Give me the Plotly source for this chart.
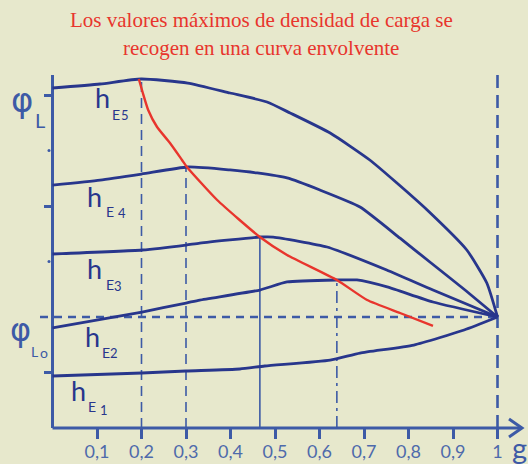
import plotly.graph_objects as go

# ---------------- data ----------------
title_lines = ["Los valores máximos de densidad de carga se",
               "recogen en una curva envolvente"]

g_ticks = [0.1, 0.2, 0.3, 0.4, 0.5, 0.6, 0.7, 0.8, 0.9, 1.0]
g_tick_labels = ["0,1", "0,2", "0,3", "0,4", "0,5", "0,6", "0,7", "0,8", "0,9", "1"]
phi_ticks = [1, 4, 6]
phi_dots = [3, 5]

hE5_g = [0.0, 0.107, 0.199, 0.304, 0.399, 0.482, 0.534, 0.624, 0.713, 0.774, 0.842, 0.931, 0.976, 1.0]
hE5_phi = [6.126, 6.198, 6.288, 6.216, 6.036, 5.874, 5.676, 5.315, 4.829, 4.414, 3.928, 3.207, 2.613, 2.0]

hE4_g = [0.0, 0.107, 0.201, 0.304, 0.399, 0.46, 0.527, 0.601, 0.691, 0.781, 0.848, 0.927, 1.0]
hE4_phi = [4.378, 4.468, 4.577, 4.703, 4.649, 4.595, 4.505, 4.288, 3.982, 3.42, 2.991, 2.486, 2.0]

hE3_g = [0.0, 0.201, 0.3, 0.331, 0.466, 0.496, 0.617, 0.751, 0.855, 1.0]
hE3_phi = [3.135, 3.207, 3.297, 3.333, 3.441, 3.441, 3.261, 2.847, 2.486, 2.0]

hE2_g = [0.0, 0.201, 0.3, 0.331, 0.466, 0.527, 0.639, 0.684, 0.752, 0.855, 1.0]
hE2_phi = [1.802, 2.09, 2.252, 2.306, 2.486, 2.631, 2.667, 2.667, 2.541, 2.27, 2.0]

hE1_g = [0.0, 0.201, 0.3, 0.421, 0.477, 0.624, 0.691, 0.812, 0.925, 1.0]
hE1_phi = [0.937, 0.991, 1.027, 1.063, 1.117, 1.225, 1.351, 1.495, 1.766, 2.0]

envelope_g = [0.194, 0.203, 0.215, 0.235, 0.264, 0.291, 0.302, 0.370, 0.466, 0.527, 0.639, 0.707, 0.781, 0.855]
envelope_phi = [6.288, 6.036, 5.73, 5.423, 5.135, 4.829, 4.703, 4.108, 3.441, 3.117, 2.667, 2.306, 2.072, 1.838]

guide_g = [0.2, 0.3, 0.466, 0.639]
guide_top = [6.288, 4.703, 3.441, 2.667]
guide_dash = ["10px,6px", "10px,6px", "solid", "12px,5px,3px,5px"]

phi_L0 = 2.0
phi_axis_top = 6.36
g_axis_end = 1.055

curve_names = ["5", "4", "3", "2", "1"]

# ---------------- style ----------------
BG = "#e7e8cc"
CURVE = "#28368c"
AXIS = "#3d5aa6"
RED = "#e8352d"
TXT = "#4e6aab"
SANS = "Lato, 'Open Sans', sans-serif"

W, H = 528, 464
X0PX, XS = 52.5, 445.0
Y0PX, YS = 428.0, 55.5
x_range = [(0 - X0PX) / XS, (W - X0PX) / XS]
y_range = [(Y0PX - H) / YS, Y0PX / YS]


def px2x(p):
    return (p - X0PX) / XS


def px2y(p):
    return (Y0PX - p) / YS


fig = go.Figure()

# axis lines
fig.add_trace(go.Scatter(x=[0, 0], y=[0, phi_axis_top], mode="lines",
                         line=dict(color=AXIS, width=3), hoverinfo="skip"))
fig.add_trace(go.Scatter(x=[0, g_axis_end], y=[0, 0], mode="lines",
                         line=dict(color=AXIS, width=3), hoverinfo="skip"))
fig.add_trace(go.Scatter(x=[px2x(509), g_axis_end, px2x(509)],
                         y=[px2y(419), 0, px2y(437)], mode="lines",
                         line=dict(color=AXIS, width=3), hoverinfo="skip"))
# y dots
fig.add_trace(go.Scatter(x=[px2x(49)] * len(phi_dots), y=phi_dots, mode="markers",
                         marker=dict(color=AXIS, size=3), hoverinfo="skip"))

# guides
for gx, gt, d in zip(guide_g, guide_top, guide_dash):
    fig.add_trace(go.Scatter(x=[gx, gx], y=[0, gt], mode="lines",
                             line=dict(color=AXIS, width=1.6, dash=d), hoverinfo="skip"))
fig.add_trace(go.Scatter(x=[1.0, 1.0], y=[0, phi_axis_top], mode="lines",
                         line=dict(color=AXIS, width=2.6, dash="13px,7px"), hoverinfo="skip"))
fig.add_trace(go.Scatter(x=[px2x(40), 1.0], y=[phi_L0, phi_L0], mode="lines",
                         line=dict(color=AXIS, width=2.4, dash="8px,6px"), hoverinfo="skip"))

# curves
for gs, ps in [(hE5_g, hE5_phi), (hE4_g, hE4_phi), (hE3_g, hE3_phi),
               (hE2_g, hE2_phi), (hE1_g, hE1_phi)]:
    fig.add_trace(go.Scatter(x=gs, y=ps, mode="lines",
                             line=dict(color=CURVE, width=2.8, shape="spline", smoothing=0.5),
                             hoverinfo="skip"))

fig.add_trace(go.Scatter(x=envelope_g, y=envelope_phi, mode="lines",
                         line=dict(color=RED, width=2.4, shape="spline", smoothing=0.5),
                         hoverinfo="skip"))

ann = []


def txt(xp, yp, s, size, color=CURVE, family=SANS):
    ann.append(dict(x=px2x(xp), y=px2y(yp), xref="x", yref="y", text=s, showarrow=False,
                    font=dict(size=size, color=color, family=family),
                    xanchor="center", yanchor="middle"))


# title
txt(261, 20, title_lines[0], 21, RED, "'Liberation Serif', serif")
txt(261, 48, title_lines[1], 21, RED, "'Liberation Serif', serif")

# curve labels (h, E, index)
label_pos = [
    ((102.5, 97.5), (115.5, 114), (125, 115)),
    ((94.5, 196), (109.5, 211), (121.5, 213)),
    ((94.5, 268), (109.5, 284), (118, 286)),
    ((92.5, 336), (105.5, 352), (114, 353)),
    ((78.5, 390), (92, 406), (104, 410)),
]
for name, (hp, ep, np_) in zip(curve_names, label_pos):
    txt(hp[0], hp[1], "h", 27, CURVE)
    txt(ep[0], ep[1], "E", 14, CURVE)
    txt(np_[0], np_[1], name, 13, CURVE)

# phi labels
txt(22, 100, "φ", 34, AXIS, "'DejaVu Sans', sans-serif")
txt(40, 120, "L", 20, AXIS)
txt(20, 330, "φ", 32, AXIS, "'DejaVu Sans', sans-serif")
txt(34, 351, "L", 14, AXIS)
txt(44, 352, "o", 14, AXIS)

# g label
txt(519, 447, "g", 29, AXIS)

fig.update_layout(
    width=W, height=H, autosize=False,
    margin=dict(l=0, r=0, t=0, b=0, pad=0),
    paper_bgcolor=BG, plot_bgcolor=BG,
    showlegend=False,
    annotations=ann,
    xaxis=dict(range=x_range, anchor="free", position=(H - Y0PX) / H,
               showgrid=False, zeroline=False, showline=False,
               tickmode="array", tickvals=g_ticks, ticktext=g_tick_labels,
               ticks="outside", ticklen=10, tickwidth=2.5, tickcolor=AXIS,
               ticklabelstandoff=-3,
               tickfont=dict(family=SANS, size=18, color=TXT), fixedrange=True),
    yaxis=dict(range=y_range, anchor="free", position=X0PX / W,
               showgrid=False, zeroline=False, showline=False,
               tickmode="array", tickvals=phi_ticks, showticklabels=False,
               ticks="outside", ticklen=9, tickwidth=2.5, tickcolor=AXIS, fixedrange=True),
)

fig.write_html("out.html", config={"displayModeBar": False},
               post_script="document.body.style.margin='0';document.body.style.background='%s';" % BG)
